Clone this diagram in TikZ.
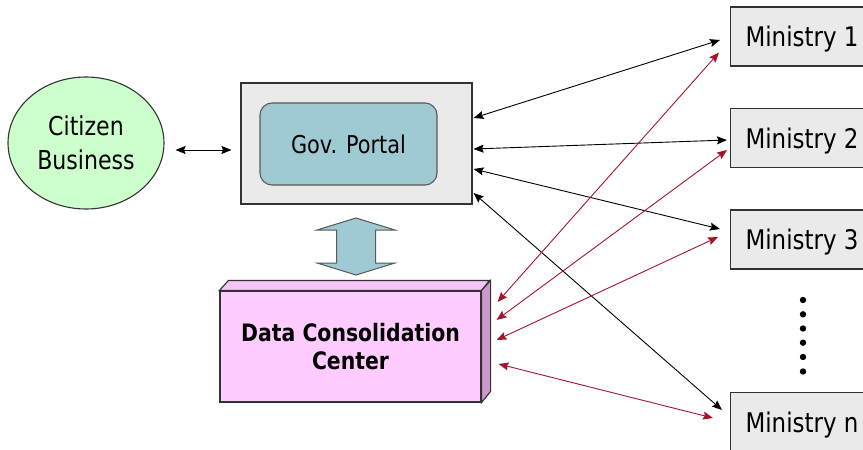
\documentclass[tikz,border=0pt]{standalone}
\usepackage{fontspec}
\setmainfont{DejaVu Sans}[FakeStretch=0.85]
\usetikzlibrary{arrows.meta,calc,shapes.geometric}

\definecolor{boxgray}{RGB}{234,234,234}
\definecolor{citgreen}{RGB}{204,255,204}
\definecolor{portalteal}{RGB}{159,202,211}
\definecolor{dcpink}{RGB}{255,204,255}
\definecolor{dcside}{RGB}{204,153,204}
\definecolor{dcred}{RGB}{165,20,45}
\definecolor{edge}{RGB}{50,50,50}

\begin{document}
\begin{tikzpicture}[x=1pt,y=-1pt,
  box/.style={draw=edge, line width=1.1pt, fill=boxgray},
  ministry/.style={box, anchor=west, minimum height=59pt, inner xsep=15pt,
    text height=20pt, text depth=0pt, font=\fontsize{27}{32}\selectfont},
  link/.style={line width=0.9pt,
    {Stealth[length=10pt,width=8pt,inset=1.5pt]}-{Stealth[length=10pt,width=8pt,inset=1.5pt]}},
  redlink/.style={link, draw=dcred},
]
\useasboundingbox (0,0) rectangle (863,450);

% citizen / business
\node[ellipse, draw=edge, line width=1.1pt, fill=citgreen,
      minimum width=156pt, minimum height=132pt, inner sep=0pt,
      align=center, font=\fontsize{26}{34}\selectfont] (cit) at (86,143)
      {Citizen\\Business};

% government portal
\node[box, minimum width=231pt, minimum height=121pt, inner sep=0pt] (portal) at (356.5,143.5) {};
\node[draw=black!65, line width=1.1pt, fill=portalteal, rounded corners=12pt,
      minimum width=177pt, minimum height=82pt, inner sep=0pt,
      font=\fontsize{24.5}{28}\selectfont] (gov) at (348.5,144) {Gov. Portal};

% data consolidation center (box with depth)
\node[draw=edge, line width=1.1pt, fill=dcpink, minimum width=261pt, minimum height=111pt,
      inner sep=0pt, align=center, font=\fontsize{24}{28}\selectfont\bfseries]
      (dcc) at (350.5,346.5) {Data Consolidation\\Center};
\draw[draw=edge, line width=1.1pt, fill=dcpink!85!dcside]
  (dcc.north west) -- ++(9,-10) -- ++(261,0) -- (dcc.north east) -- cycle;
\draw[draw=edge, line width=1.1pt, fill=dcside]
  (dcc.north east) -- ++(9,-10) -- ++(0,111) -- (dcc.south east) -- cycle;

% two-way block arrow between portal and center
\coordinate (da) at (356,246.5);
\draw[draw=black!65, line width=1pt, fill=portalteal]
  ($(da)+(0,-28.5)$) -- ($(da)+(39,-16.5)$) -- ($(da)+(19.5,-16.5)$) --
  ($(da)+(19.5,16.5)$) -- ($(da)+(39,16.5)$) -- ($(da)+(0,28.5)$) --
  ($(da)+(-39,16.5)$) -- ($(da)+(-19.5,16.5)$) -- ($(da)+(-19.5,-16.5)$) --
  ($(da)+(-39,-16.5)$) -- cycle;

% ministries
\node[ministry] (m1) at (730,36.5) {Ministry 1};
\node[ministry] (m2) at (730,138) {Ministry 2};
\node[ministry] (m3) at (730,239.5) {Ministry 3};
\node[ministry] (mn) at (730,422) {Ministry n};

% vertical dots
\foreach \yy in {300,314.3,328.5,342.7,357,371.5}
  \fill (803,\yy) circle (3.2pt);

% citizen <-> portal
\draw[link] ($(cit.east)+(11,7)$) -- ($(portal.west)+(-9,6.5)$);

% portal <-> ministries
\draw[link] ($(portal.east)+(1,-25.5)$) -- ($(m1.west)+(-10,3.5)$);
\draw[link] ($(portal.east)+(1,5.5)$)   -- ($(m2.west)+(-3,2)$);
\draw[link] ($(portal.east)+(1,25.5)$)  -- ($(m3.west)+(-10,-10.5)$);
\draw[link] ($(portal.east)+(1,49.5)$)  -- ($(mn.west)+(-8,-12)$);

% center <-> ministries
\draw[redlink] ($(dcc.east)+(16,-44.5)$) -- ($(m1.west)+(-11,16)$);
\draw[redlink] ($(dcc.east)+(15,-26.5)$) -- ($(m2.west)+(-3,12)$);
\draw[redlink] ($(dcc.east)+(15,-6.5)$)  -- ($(m3.west)+(-12,-2.5)$);
\draw[redlink] ($(dcc.east)+(17,17.5)$)  -- ($(mn.west)+(-17,-4)$);
\end{tikzpicture}
\end{document}
